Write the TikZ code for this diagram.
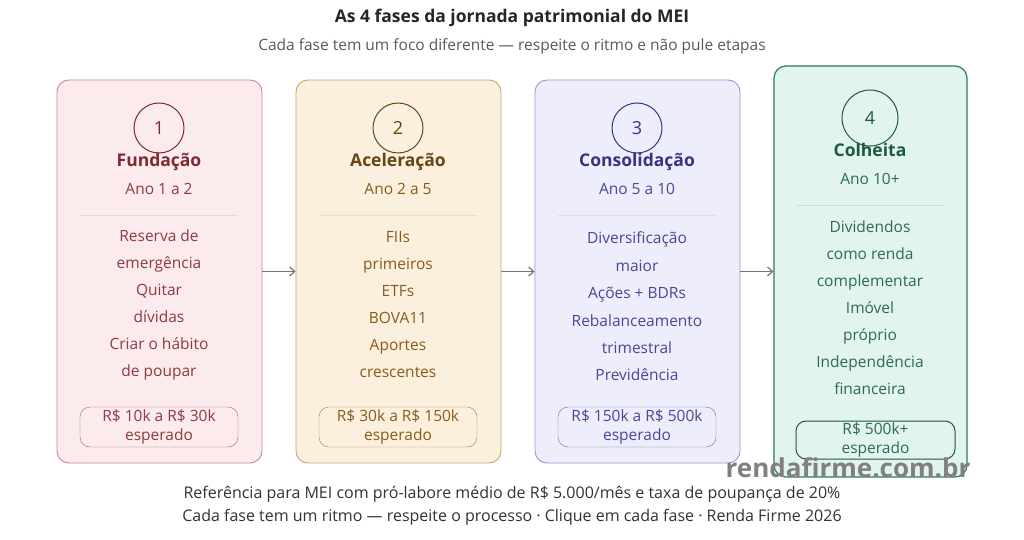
\documentclass[tikz,border=0pt]{standalone}
\usepackage{fontspec}
\setmainfont{Open Sans}
\usetikzlibrary{positioning,arrows.meta}
\definecolor{FundFill}{HTML}{FCEBEC}
\definecolor{FundLine}{HTML}{C98A8F}
\definecolor{FundText}{HTML}{8E3B41}
\definecolor{FundHead}{HTML}{7A2A31}
\definecolor{AcelFill}{HTML}{FBF0DE}
\definecolor{AcelLine}{HTML}{C9A36B}
\definecolor{AcelText}{HTML}{8A5A1C}
\definecolor{AcelHead}{HTML}{6A4413}
\definecolor{ConsFill}{HTML}{EEEDFC}
\definecolor{ConsLine}{HTML}{9C97D8}
\definecolor{ConsText}{HTML}{4B4696}
\definecolor{ConsHead}{HTML}{383480}
\definecolor{ColhFill}{HTML}{E1F4ED}
\definecolor{ColhLine}{HTML}{2F7A5A}
\definecolor{ColhText}{HTML}{2E6B50}
\definecolor{ColhHead}{HTML}{1D5A3F}

\begin{document}
\begin{tikzpicture}[x=1pt, y=-1pt,
    card/.style={draw, rounded corners=12pt, minimum width=205pt, minimum height=383pt, line width=0.9pt},
    phase/.style={circle, draw, minimum size=50pt, inner sep=0pt, line width=1pt, font=\fontsize{18}{20}\selectfont},
    phasename/.style={font=\fontsize{17.5}{20}\selectfont\bfseries, text height=12pt, text depth=4pt},
    years/.style={font=\fontsize{15.5}{18}\selectfont, text height=11pt, text depth=3pt},
    items/.style={align=center, inner sep=0pt, font=\fontsize{15.5}{27}\selectfont},
    goal/.style={draw, rounded corners=10pt, minimum width=158pt, minimum height=40pt, inner sep=0pt, align=center, font=\fontsize{15.5}{18.5}\selectfont},
    flow/.style={-{Straight Barb[length=5pt, width=9pt]}, line width=1.2pt, black!55}]
  \useasboundingbox[fill=white] (0,0) rectangle (1024,540);

  % titulo
  \node[font=\fontsize{17.5}{20}\selectfont\bfseries, text=black!85] (title) at (512,18) {As 4 fases da jornada patrimonial do MEI};
  \node[font=\fontsize{15.5}{18}\selectfont, text=black!65] (subtitle) at (512,46) {Cada fase tem um foco diferente — respeite o ritmo e não pule etapas};

  % fase 1
  \node[card, draw=FundLine, fill=FundFill] (card1) at (159.5,271.5) {};
  \node[phase, draw=FundHead, text=FundHead] (num1) at (159,128) {1};
  \node[phasename, text=FundHead] (name1) at (159,163) {Fundação};
  \node[years, text=FundText] (years1) at (159,190) {Ano 1 a 2};
  \draw[FundLine!35] (80,215) -- (238,215);
  \node[items, text=FundText] (items1) at (159,305) {Reserva de\\emergência\\Quitar\\dívidas\\Criar o hábito\\de poupar};
  \node[goal, draw=FundText!80, text=FundText] (goal1) at (159,427) {R\$ 10k a R\$ 30k\\esperado};

  % fase 2
  \node[card, draw=AcelLine, fill=AcelFill] (card2) at (398.5,271.5) {};
  \node[phase, draw=AcelHead, text=AcelHead] (num2) at (398,128) {2};
  \node[phasename, text=AcelHead] (name2) at (398,163) {Aceleração};
  \node[years, text=AcelText] (years2) at (398,190) {Ano 2 a 5};
  \draw[AcelLine!35] (319,215) -- (477,215);
  \node[items, text=AcelText] (items2) at (398,305) {FIIs\\primeiros\\ETFs\\BOVA11\\Aportes\\crescentes};
  \node[goal, draw=AcelText!80, text=AcelText] (goal2) at (398,427) {R\$ 30k a R\$ 150k\\esperado};

  % fase 3
  \node[card, draw=ConsLine, fill=ConsFill] (card3) at (637.5,271.5) {};
  \node[phase, draw=ConsHead, text=ConsHead] (num3) at (637,128) {3};
  \node[phasename, text=ConsHead] (name3) at (637,163) {Consolidação};
  \node[years, text=ConsText] (years3) at (637,190) {Ano 5 a 10};
  \draw[ConsLine!35] (558,215) -- (716,215);
  \node[items, text=ConsText, font=\fontsize{15.5}{27.4}\selectfont] (items3) at (637,306.5) {Diversificação\\maior\\Ações + BDRs\\Rebalanceamento\\trimestral\\Previdência};
  \node[goal, draw=ConsText!80, text=ConsText] (goal3) at (637,427) {R\$ 150k a R\$ 500k\\esperado};

  % fase 4
  \node[card, draw=ColhLine, fill=ColhFill, minimum width=193pt, minimum height=411pt, line width=1.2pt] (card4) at (870.5,271.5) {};
  \node[phase, draw=ColhHead, text=ColhHead, minimum size=56pt] (num4) at (870,118) {4};
  \node[phasename, text=ColhHead] (name4) at (870,153) {Colheita};
  \node[years, text=ColhText] (years4) at (870,180) {Ano 10+};
  \draw[ColhLine!25] (797,205) -- (945,205);
  \node[items, text=ColhText] (items4) at (870,308) {Dividendos\\como renda\\complementar\\Imóvel\\próprio\\Independência\\financeira};
  \node[goal, draw=ColhHead, text=ColhText, minimum width=159pt, minimum height=38pt, line width=1pt] (goal4) at (875.5,440) {R\$ 500k+\\esperado};

  % setas
  \draw[flow] (card1.east) -- (card2.west);
  \draw[flow] (card2.east) -- (card3.west);
  \draw[flow] (card3.east) -- (card4.west);

  % marca
  \node[font=\fontsize{26}{30}\selectfont\bfseries, text=black!50] (mark) at (848,468) {rendafirme.com.br};

  % rodape
  \node[font=\fontsize{16}{19}\selectfont, text=black!80] (note1) at (512,494) {Referência para MEI com pró-labore médio de R\$ 5.000/mês e taxa de poupança de 20\%};
  \node[font=\fontsize{16}{19}\selectfont, text=black!80] (note2) at (512,517) {Cada fase tem um ritmo — respeite o processo · Clique em cada fase · Renda Firme 2026};
\end{tikzpicture}
\end{document}
